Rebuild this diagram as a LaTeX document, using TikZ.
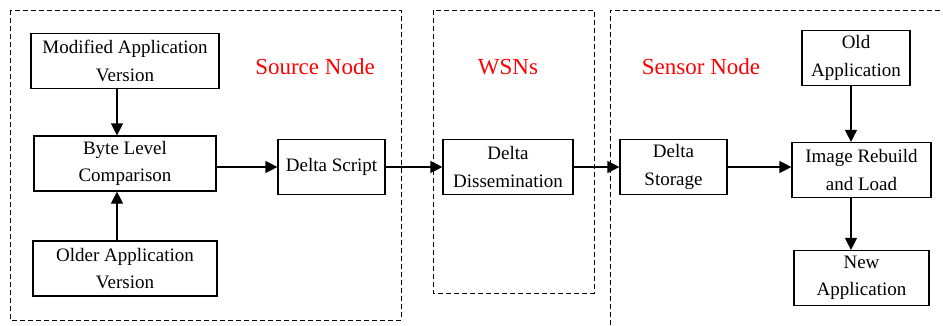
\documentclass[tikz,border=0pt]{standalone}
\usepackage{fontspec}
\setmainfont{Liberation Serif}
\usepackage{xcolor}
\usetikzlibrary{arrows.meta, positioning}
\tikzstyle{block} = [rectangle, draw, thick, line width=1.2pt, text centered,
                     align=center, minimum height=55pt, inner sep=2pt,
                     font=\fontsize{19}{27.5}\selectfont]
\tikzstyle{group} = [draw, line width=0.9pt, dash pattern=on 5pt off 3pt]
\tikzstyle{title} = [text=red, font=\fontsize{23}{27}\selectfont]
\tikzstyle{arrow} = [line width=1.2pt, -{Triangle[length=12pt,width=12pt]}]

\begin{document}
\begin{tikzpicture}[x=1pt, y=-1pt]
\useasboundingbox (0,0) rectangle (943,325);
% dashed frames
\draw [group] (10,10) rectangle (401,320);
\draw [group] (433,10) rectangle (594,293);
\draw [group] (610,325) |- (943,10);
\node [title] at (315,67) (src_title) {Source Node};
\node [title] at (508,67) (wsn_title) {WSNs};
\node [title] at (701,67) (sensor_title) {Sensor Node};
% source node
\node [block, minimum width=188pt] at (125,61) (modified)
	{Modified Application\\Version};
\node [block, minimum width=182pt] at (125,163.5) (byte_cmp)
	{Byte Level\\Comparison};
\node [block, minimum width=184pt] at (125,268.5) (older)
	{Older Application\\Version};
\node [block, minimum width=107pt] at (331.5,167) (delta_script)
	{Delta Script};
% WSNs
\node [block, minimum width=130pt] at (508,167) (delta_dissem)
	{Delta\\Dissemination};
% sensor node
\node [block, minimum width=107pt] at (673.5,167) (delta_storage)
	{Delta\\Storage};
\node [block, minimum width=139pt] at (861.5,170) (rebuild)
	{Image Rebuild\\and Load};
\node [block, minimum width=108pt] at (856,58) (old_app)
	{Old\\Application};
\node [block, minimum width=135pt] at (861.5,278) (new_app)
	{New\\Application};
\coordinate (src_axis) at ([xshift=-8pt]modified.south);
\coordinate (sensor_axis) at ([xshift=-5pt]old_app.south);
\draw [arrow] (src_axis) -- (src_axis |- byte_cmp.north);
\draw [arrow] (src_axis |- older.north) -- (src_axis |- byte_cmp.south);
\draw [arrow] (byte_cmp.east |- delta_script) -- (delta_script.west);
\draw [arrow] (delta_script) -- (delta_dissem);
\draw [arrow] (delta_dissem) -- (delta_storage);
\draw [arrow] (delta_storage.east) -- (rebuild.west |- delta_storage);
\draw [arrow] (sensor_axis) -- (sensor_axis |- rebuild.north);
\draw [arrow] (sensor_axis |- rebuild.south) -- (sensor_axis |- new_app.north);
\end{tikzpicture}
\end{document}
